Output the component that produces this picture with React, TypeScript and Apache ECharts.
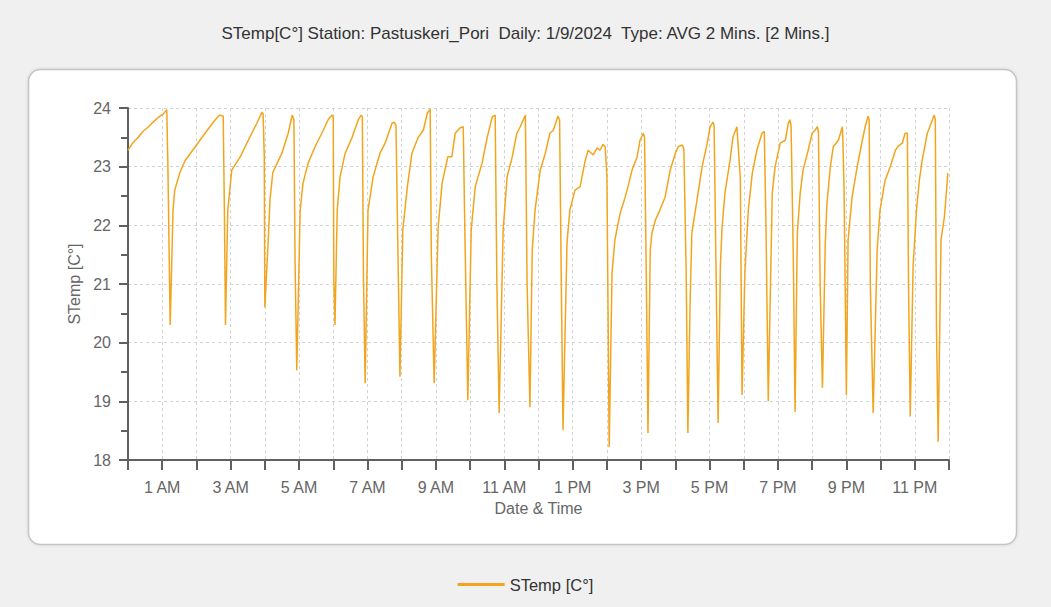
import React, { useEffect, useRef } from "react";
import * as echarts from "echarts";

const titleText = "STemp[C°] Station: Pastuskeri_Pori  Daily: 1/9/2024  Type: AVG 2 Mins. [2 Mins.]";
const seriesName = "STemp [C°]";
const yAxisName = "STemp [C°]";
const xAxisName = "Date & Time";

const labelHours = [1, 3, 5, 7, 9, 11, 13, 15, 17, 19, 21, 23];
const tickLabels = ["1 AM", "3 AM", "5 AM", "7 AM", "9 AM", "11 AM", "1 PM", "3 PM", "5 PM", "7 PM", "9 PM", "11 PM"];

// minutes after midnight
const timeMinutes = [
  0, 8, 18, 26, 36, 44, 52, 62, 68, 70, 74, 79, 82, 91, 100, 118, 135, 153, 161, 167,
  169, 171, 175, 182, 197, 211, 226, 235, 237, 239, 240, 246, 249, 254, 270, 281, 288, 291,
  293, 296, 302, 307, 316, 328, 340, 351, 358, 360, 361, 363, 367, 372, 381, 393, 404, 409,
  411, 413, 416, 421, 430, 442, 451, 463, 467, 470, 474, 477, 482, 490, 498, 509, 518, 525,
  530, 532, 537, 544, 551, 561, 568, 574, 582, 588, 591, 596, 602, 609, 621, 630, 639, 644,
  647, 651, 658, 665, 674, 682, 688, 697, 700, 705, 709, 714, 723, 732, 740, 746, 754, 757,
  760, 763, 770, 775, 784, 793, 802, 807, 816, 823, 828, 833, 837, 840, 844, 849, 854, 863,
  872, 877, 884, 893, 898, 904, 906, 909, 912, 916, 919, 925, 933, 942, 951, 960, 965, 972,
  975, 979, 982, 986, 989, 998, 1007, 1016, 1021, 1026, 1028, 1032, 1035, 1039, 1042, 1047,
  1056, 1061, 1068, 1074, 1077, 1082, 1088, 1095, 1103, 1112, 1116, 1119, 1123, 1130, 1135,
  1144, 1153, 1158, 1161, 1163, 1167, 1170, 1174, 1179, 1184, 1193, 1200, 1205, 1209, 1211,
  1214, 1218, 1223, 1226, 1232, 1237, 1246, 1253, 1254, 1256, 1260, 1263, 1270, 1279, 1288,
  1293, 1298, 1300, 1302, 1307, 1314, 1319, 1328, 1337, 1346, 1351, 1358, 1363, 1367, 1369,
  1372, 1377, 1383, 1388, 1393, 1402, 1411, 1414, 1416, 1418, 1421, 1426, 1432, 1438,
];

const tempValues = [
  23.28, 23.4, 23.5, 23.6, 23.68, 23.76, 23.83, 23.9, 23.97, 23.0, 20.3, 22.26, 22.6, 22.9, 23.1, 23.34, 23.57, 23.8, 23.88, 23.86,
  22.3, 20.3, 22.26, 22.94, 23.17, 23.45, 23.74, 23.93, 23.9, 23.17, 20.6, 21.75, 22.43, 22.9, 23.23, 23.57, 23.88, 23.8,
  21.4, 19.53, 22.26, 22.72, 23.06, 23.34, 23.57, 23.8, 23.88, 23.85, 21.1, 20.3, 22.26, 22.83, 23.23, 23.5, 23.8, 23.88,
  23.85, 21.1, 19.31, 22.26, 22.83, 23.23, 23.4, 23.74, 23.76, 23.7, 21.2, 19.42, 21.92, 22.66, 23.23, 23.5, 23.62, 23.91,
  23.98, 21.5, 19.31, 21.97, 22.72, 23.17, 23.17, 23.57, 23.66, 23.68, 21.8, 19.02, 21.92, 22.66, 23.06, 23.5, 23.85, 23.88,
  21.0, 18.8, 21.92, 22.83, 23.17, 23.57, 23.68, 23.88, 21.0, 18.9, 21.58, 22.26, 22.94, 23.23, 23.57, 23.62, 23.86, 23.8,
  21.0, 18.51, 21.7, 22.26, 22.6, 22.66, 23.11, 23.28, 23.2, 23.32, 23.28, 23.38, 23.34, 22.83, 18.22, 21.19, 21.75, 22.2,
  22.48, 22.66, 22.94, 23.17, 23.45, 23.57, 23.5, 21.2, 18.46, 21.58, 21.87, 22.09, 22.26, 22.48, 22.94, 23.23, 23.34, 23.37,
  23.3, 21.2, 18.46, 20.73, 21.87, 22.43, 23.0, 23.4, 23.68, 23.76, 23.7, 20.8, 18.63, 21.3, 21.97, 22.55,
  23.11, 23.5, 23.68, 22.8, 19.11, 21.19, 22.26, 22.89, 23.28, 23.57, 23.6, 22.0, 19.0, 22.55, 23.0,
  23.4, 23.45, 23.74, 23.8, 23.7, 21.4, 18.82, 21.87, 22.55, 22.94, 23.28, 23.57, 23.62, 23.68, 23.6,
  21.0, 19.23, 21.7, 22.38, 23.0, 23.34, 23.45, 23.68, 23.4, 22.6, 19.11, 21.75, 22.48, 23.0, 23.45,
  23.68, 23.86, 23.8, 21.0, 18.8, 21.58, 22.26, 22.77, 23.0, 23.28, 23.35, 23.4, 23.57, 23.57, 21.0,
  18.74, 21.3, 22.26, 22.77, 23.11, 23.57, 23.8, 23.88, 23.8, 20.3, 18.31, 21.75, 22.15, 22.89,
];

const FONT = "'Liberation Sans', Arial, sans-serif";

export default function App() {
  const ref = useRef<HTMLDivElement>(null);

  useEffect(() => {
    if (!ref.current) return;
    const chart = echarts.init(ref.current, undefined, { renderer: "svg" });
    const data = timeMinutes.map((t, i) => [t, tempValues[i]]);
    chart.setOption({
      animation: false,
      backgroundColor: "#f0f0f0",
      textStyle: { fontFamily: FONT },
      title: {
        text: titleText,
        left: "center",
        top: 20,
        textStyle: { fontSize: 17, fontWeight: "normal", color: "#333", fontFamily: FONT },
      },
      graphic: [
        {
          type: "rect",
          z: -10,
          silent: true,
          shape: { x: 28.5, y: 69.5, width: 988, height: 475, r: 12 },
          style: {
            fill: "#ffffff",
            stroke: "#c4c4c4",
            lineWidth: 1.5,
            shadowBlur: 3,
            shadowColor: "rgba(0,0,0,0.12)",
          },
        },
      ],
      legend: {
        data: [seriesName],
        left: "center",
        top: 571,
        icon: "rect",
        itemWidth: 47,
        itemHeight: 3,
        itemGap: 10,
        textStyle: { fontSize: 16.5, color: "#333", fontFamily: FONT },
      },
      grid: { left: 128, right: 102, top: 108, bottom: 147, containLabel: false },
      xAxis: {
        type: "value",
        min: 0,
        max: 1440,
        interval: 60,
        name: xAxisName,
        nameLocation: "middle",
        nameGap: 40,
        nameTextStyle: { fontSize: 16, color: "#666", fontFamily: FONT },
        axisLine: { show: true, onZero: false, lineStyle: { color: "#606060", width: 2 } },
        axisTick: { show: true, length: 10, lineStyle: { color: "#606060", width: 2 } },
        axisLabel: {
          margin: 19,
          fontSize: 16,
          color: "#666",
          fontFamily: FONT,
          formatter: (v: number) => {
            const idx = labelHours.indexOf(v / 60);
            return idx >= 0 ? tickLabels[idx] : "";
          },
        },
        splitLine: { show: true, lineStyle: { color: "#d2d2d2", type: [3, 3], width: 1 } },
      },
      yAxis: {
        type: "value",
        min: 18,
        max: 24,
        interval: 1,
        name: yAxisName,
        nameLocation: "middle",
        nameGap: 34,
        nameTextStyle: { fontSize: 16, color: "#666", fontFamily: FONT },
        axisLine: { show: true, lineStyle: { color: "#606060", width: 2 } },
        axisTick: { show: true, length: 9, lineStyle: { color: "#606060", width: 2 } },
        minorTick: { show: true, splitNumber: 2, length: 7, lineStyle: { color: "#606060", width: 2 } },
        axisLabel: { margin: 17, fontSize: 16, color: "#666", fontFamily: FONT },
        splitLine: { show: true, lineStyle: { color: "#d2d2d2", type: [3, 3], width: 1 } },
      },
      series: [
        {
          name: seriesName,
          type: "line",
          data,
          showSymbol: false,
          symbol: "none",
          lineStyle: { color: "#f2a51c", width: 1.5 },
          itemStyle: { color: "#f2a51c" },
        },
      ],
    });
    return () => chart.dispose();
  }, []);

  return <div ref={ref} style={{ position: "absolute", left: 0, top: 0, width: 1051, height: 607 }} />;
}
